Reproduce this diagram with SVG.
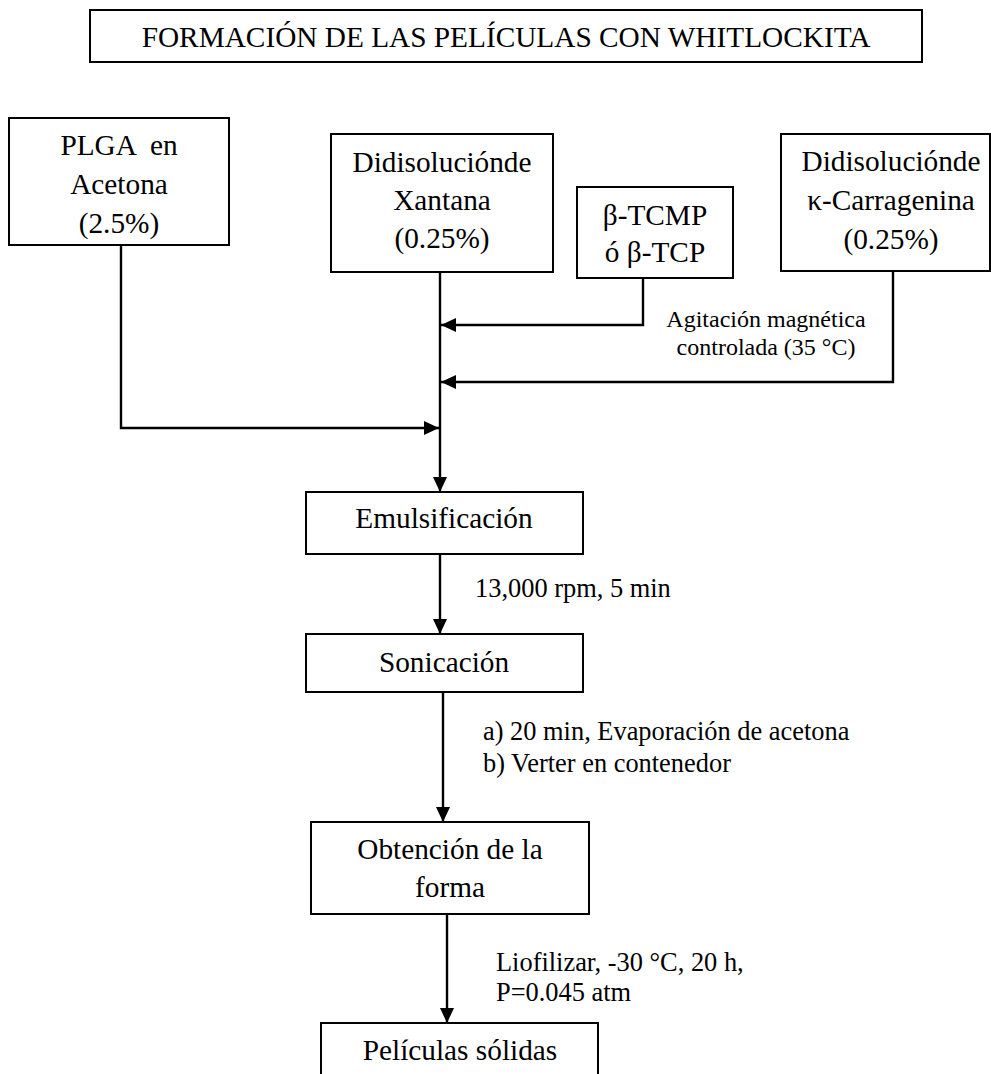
<svg xmlns="http://www.w3.org/2000/svg" width="991" height="1074" viewBox="0 0 991 1074">
<style>
.box{fill:#fff;stroke:#000;stroke-width:2}
.t{font-family:"Liberation Serif","Times New Roman",serif;font-size:29.3px;fill:#000;text-anchor:middle}
.lbl{font-family:"Liberation Serif","Times New Roman",serif;font-size:26.4px;fill:#000}
.lbl2{font-family:"Liberation Serif","Times New Roman",serif;font-size:24px;fill:#000;text-anchor:middle}
.c{fill:none;stroke:#000;stroke-width:2.4;marker-end:url(#ah)}
.c0{fill:none;stroke:#000;stroke-width:2.4}
</style>
<defs>
<marker id="ah" markerUnits="userSpaceOnUse" markerWidth="16" markerHeight="16" refX="15" refY="7" orient="auto">
<path d="M0,0 L15,7 L0,14 z" fill="#000"/>
</marker>
</defs>
<rect width="991" height="1074" fill="#fff"/>
<g id="title">
<rect class="box" x="90" y="10" width="832" height="52"/>
<text class="t" x="506" y="47">FORMACIÓN DE LAS PELÍCULAS CON WHITLOCKITA</text>
</g>
<g id="connectors">
<path class="c" d="M440,272 V492"/>
<path class="c" d="M643,278 V325 H441"/>
<path class="c" d="M893,271 V382 H441"/>
<path class="c" d="M121,245 V428 H439"/>
<path class="c" d="M440,554 V634"/>
<path class="c" d="M443,692 V822"/>
<path class="c" d="M447,914 V1023"/>
</g>
<g id="plga">
<rect class="box" x="9" y="118" width="220" height="127"/>
<text class="t" x="119" y="155" xml:space="preserve">PLGA  en</text>
<text class="t" x="119" y="194">Acetona</text>
<text class="t" x="119" y="233">(2.5%)</text>
</g>
<g id="xantana">
<rect class="box" x="331" y="134" width="222" height="138"/>
<text class="t" x="442" y="172">Didisoluciónde</text>
<text class="t" x="442" y="210">Xantana</text>
<text class="t" x="442" y="248">(0.25%)</text>
</g>
<g id="tcmp">
<rect class="box" x="577" y="187" width="156" height="91"/>
<text class="t" x="655" y="225">β-TCMP</text>
<text class="t" x="655" y="262">ó β-TCP</text>
</g>
<g id="carragenina">
<rect class="box" x="781" y="134" width="209" height="137"/>
<text class="t" x="891" y="171">Didisoluciónde</text>
<text class="t" x="891" y="210">κ-Carragenina</text>
<text class="t" x="891" y="249">(0.25%)</text>
</g>
<g id="label-agitacion">
<text class="lbl2" x="766" y="327">Agitación magnética</text>
<text class="lbl2" x="766" y="355">controlada (35 °C)</text>
</g>
<g id="emulsificacion">
<rect class="box" x="306" y="492" width="277" height="62"/>
<text class="t" x="444" y="528">Emulsificación</text>
</g>
<g id="label-rpm">
<text class="lbl" x="475" y="597">13,000 rpm, 5 min</text>
</g>
<g id="sonicacion">
<rect class="box" x="306" y="634" width="277" height="58"/>
<text class="t" x="444" y="672">Sonicación</text>
</g>
<g id="label-evap">
<text class="lbl" x="483" y="740">a) 20 min, Evaporación de acetona</text>
<text class="lbl" x="483" y="772">b) Verter en contenedor</text>
</g>
<g id="obtencion">
<rect class="box" x="311" y="822" width="278" height="92"/>
<text class="t" x="450" y="859">Obtención de la</text>
<text class="t" x="450" y="897">forma</text>
</g>
<g id="label-liof">
<text class="lbl" x="496" y="971">Liofilizar, -30 °C, 20 h,</text>
<text class="lbl" x="496" y="1001">P=0.045 atm</text>
</g>
<g id="peliculas">
<rect class="box" x="321" y="1023" width="277" height="80"/>
<text class="t" x="460" y="1060">Películas sólidas</text>
</g>
</svg>
